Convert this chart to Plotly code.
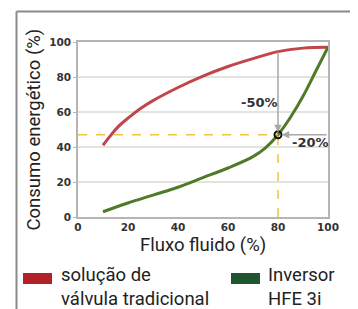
import plotly.graph_objects as go

flow = [10, 13, 16, 20, 25, 30, 40, 50, 60, 70, 80, 90, 100]
valve = [41, 46.5, 51.5, 56.5, 62, 66.5, 74, 80.5, 86, 90.5, 94.5, 96.5, 97]

flow_inv = [10, 20, 30, 40, 50, 60, 70, 75, 80, 85, 90, 95, 100]
inverter = [3, 8, 12.5, 17, 22.5, 28, 34.5, 39.5, 47, 57, 69, 83, 97]

mark_x = 80
mark_y = 47
valve_at_mark = 95
ticks = [0, 20, 40, 60, 80, 100]

RED = "#c0464a"
GREEN = "#4f7a28"
GRID = "#e4e4df"
AXIS = "#b5b5b5"

fig = go.Figure()
fig.add_trace(go.Scatter(x=flow, y=valve, mode="lines", line=dict(color=RED, width=3, shape="spline", smoothing=1.0),
                         showlegend=False, hoverinfo="skip"))
fig.add_trace(go.Scatter(x=flow_inv, y=inverter, mode="lines", line=dict(color=GREEN, width=3, shape="spline", smoothing=1.0),
                         showlegend=False, hoverinfo="skip"))
# dashed guides
fig.add_trace(go.Scatter(x=[0, mark_x], y=[mark_y, mark_y], mode="lines",
                         line=dict(color="#f5c242", width=1.5, dash="dash"), showlegend=False, hoverinfo="skip"))
fig.add_trace(go.Scatter(x=[mark_x, mark_x], y=[0, mark_y], mode="lines",
                         line=dict(color="#f5c242", width=1.5, dash="dash"), showlegend=False, hoverinfo="skip"))
# marker
fig.add_trace(go.Scatter(x=[mark_x], y=[mark_y], mode="markers",
                         marker=dict(symbol="circle-open", size=7, color="#111", line=dict(width=2, color="#111")),
                         showlegend=False, hoverinfo="skip"))

lblfont = dict(family="DejaVu Sans", size=13, color="#333", weight="bold")
annos = []
# arrows
annos.append(dict(x=mark_x, y=mark_y + 1.5, ax=mark_x, ay=valve_at_mark, xref="x", yref="y", axref="x", ayref="y",
                  showarrow=True, arrowhead=2, arrowsize=1, arrowwidth=1.5, arrowcolor="#a8a8a8", text=""))
annos.append(dict(x=mark_x + 1.5, y=mark_y, ax=100, ay=mark_y, xref="x", yref="y", axref="x", ayref="y",
                  showarrow=True, arrowhead=2, arrowsize=1, arrowwidth=1.5, arrowcolor="#a8a8a8", text=""))
annos.append(dict(x=72.5, y=65.5, xref="x", yref="y", text="-50%", showarrow=False,
                  xanchor="center", yanchor="middle", font=lblfont))
annos.append(dict(x=92.8, y=42.5, xref="x", yref="y", text="-20%", showarrow=False,
                  xanchor="center", yanchor="middle", font=lblfont))
# axis titles
annos.append(dict(x=-0.18, y=0.50, xref="paper", yref="paper", text="Consumo energético (%)", textangle=-90,
                  xanchor="center", yanchor="middle",
                  showarrow=False, font=dict(family="Roboto", size=18.5, color="#222")))
annos.append(dict(x=0.5, y=-0.162, xref="paper", yref="paper", text="Fluxo fluido (%)",
                  xanchor="center", yanchor="middle",
                  showarrow=False, font=dict(family="Roboto", size=18.5, color="#222")))
# legend texts
annos.append(dict(x=-0.072, y=-0.26, xref="paper", yref="paper", text="solução de<br>válvula tradicional",
                  xanchor="left", yanchor="top", align="left", showarrow=False, borderpad=0,
                  font=dict(family="Roboto", size=18.5, color="#222")))
annos.append(dict(x=0.756, y=-0.26, xref="paper", yref="paper", text="Inversor<br>HFE 3i",
                  xanchor="left", yanchor="top", align="left", showarrow=False, borderpad=0,
                  font=dict(family="Roboto", size=18.5, color="#222")))

shapes = [
    dict(type="rect", xref="paper", yref="paper", x0=-0.22, x1=-0.104, y0=-0.32, y1=-0.383,
         fillcolor="#b22028", line=dict(width=0)),
    dict(type="rect", xref="paper", yref="paper", x0=0.612, x1=0.728, y0=-0.32, y1=-0.383,
         fillcolor="#1e5631", line=dict(width=0)),
    dict(type="line", xref="paper", yref="paper", x0=-0.246, x1=-0.246, y0=1.174, y1=-0.6,
         line=dict(color="#8a8a8a", width=2)),
    dict(type="line", xref="paper", yref="paper", x0=-0.246, x1=1.2, y0=1.174, y1=1.174,
         line=dict(color="#8a8a8a", width=2)),
]

tickfont = dict(family="DejaVu Sans", size=10.5, color="#333", weight="bold")
fig.update_layout(
    width=350, height=301,
    margin=dict(l=70, r=30, t=34, b=92),
    paper_bgcolor="white", plot_bgcolor="white",
    annotations=annos, shapes=shapes,
    xaxis=dict(range=[0, 100], tickvals=ticks, showgrid=False, zeroline=False,
               showline=True, linecolor=AXIS, linewidth=1.5, mirror=True,
               ticks="", ticklabelstandoff=0, tickfont=tickfont),
    yaxis=dict(range=[0, 100], tickvals=ticks, showgrid=True, gridcolor=GRID, gridwidth=1.5, zeroline=False,
               showline=True, linecolor=AXIS, linewidth=1.5, mirror=True,
               ticks="outside", ticklen=3, tickcolor=AXIS, tickfont=tickfont),
)

fig.write_html("out.html")
